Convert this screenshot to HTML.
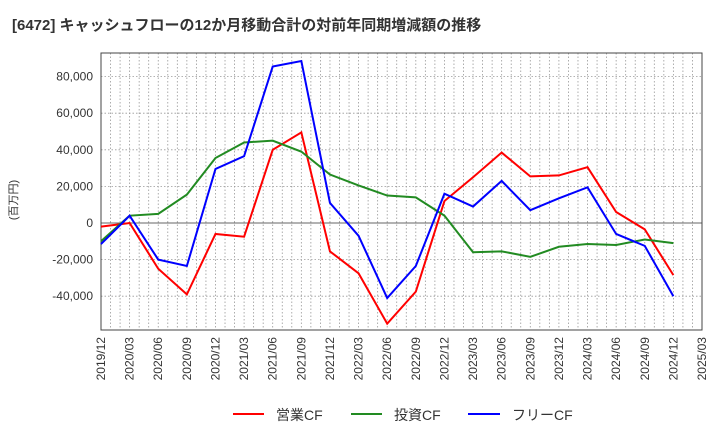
<!DOCTYPE html>
<html><head><meta charset="utf-8"><style>
body{margin:0;background:#fff;font-family:"Liberation Sans","Noto Sans CJK JP",sans-serif;}
svg text{font-family:"Liberation Sans","Noto Sans CJK JP",sans-serif;}
</style></head><body>
<svg id="c" width="720" height="440" xmlns="http://www.w3.org/2000/svg">
<text x="12" y="30" font-size="15" font-weight="bold" fill="#333">[6472]  キャッシュフローの12か月移動合計の対前年同期増減額の推移</text>
<text transform="translate(17,200) rotate(-90)" font-size="11" fill="#333" text-anchor="middle">(百万円)</text>
<g id="grid"></g><g id="axes"></g><g id="series"></g>
<g>
<line x1="233" y1="414" x2="264" y2="414" stroke="#f00" stroke-width="2"/><text x="276" y="420" font-size="14" fill="#333">営業CF</text>
<line x1="351" y1="414" x2="382" y2="414" stroke="#228b22" stroke-width="2"/><text x="394" y="420" font-size="14" fill="#333">投資CF</text>
<line x1="468" y1="414" x2="500" y2="414" stroke="#00f" stroke-width="2"/><text x="512" y="420" font-size="14" fill="#333">フリーCF</text>
</g>
</svg>
<script>
const categories=["2019/12","2020/03","2020/06","2020/09","2020/12","2021/03","2021/06","2021/09","2021/12","2022/03","2022/06","2022/09","2022/12","2023/03","2023/06","2023/09","2023/12","2024/03","2024/06","2024/09","2024/12","2025/03"];
const operatingCF=[-2000,0,-25000,-39000,-6000,-7500,40000,49500,-15500,-27500,-55000,-37500,12000,25000,38500,25500,26000,30500,6000,-3500,-28500];
const investingCF=[-10000,4000,5000,15500,35500,44000,45000,39000,26500,20500,15000,14000,4000,-16000,-15500,-18500,-13000,-11500,-12000,-9000,-11000];
const freeCF=[-11500,4000,-20000,-23500,29500,36500,85500,88500,11000,-7000,-41000,-23500,16000,9000,23000,7000,13500,19500,-6000,-12500,-40000];
const yTicks=[-40000,-20000,0,20000,40000,60000,80000];
const L=101,R=702,T=53,B=330;
const X=i=>L+(R-L)*i/(categories.length-1);
const Y=v=>223-v*36.6/20000;
const ns="http://www.w3.org/2000/svg";
function mk(t,a,p){const e=document.createElementNS(ns,t);for(const k in a)e.setAttribute(k,a[k]);p.appendChild(e);return e;}
const grid=document.getElementById('grid'),axes=document.getElementById('axes'),ser=document.getElementById('series');
for(let m=0;m<=63;m++){const x=L+(R-L)*m/63;
 const g=mk('line',{x1:x,x2:x,y1:T,y2:B,stroke:'#999','stroke-width':0.8,'stroke-dasharray':'1.5,2'},grid);
 }
yTicks.forEach(v=>{const y=Y(v);
 const g=mk('line',{x1:L,x2:R,y1:y,y2:y,stroke:v===0?'#666':'#999','stroke-width':v===0?1:0.8,'stroke-dasharray':v===0?'':'1.5,2'},grid);
 
 const t=mk('text',{x:L-8,y:y+4,'font-size':12,'text-anchor':'end',fill:'#333'},axes);t.textContent=v.toLocaleString('en-US');
 });
categories.forEach((c,i)=>{const x=X(i);
 const t=mk('text',{transform:`translate(${x+4},337) rotate(-90)`,'font-size':12,'text-anchor':'end',fill:'#333'},axes);t.textContent=c;
 });
const f=mk('rect',{x:L,y:T,width:R-L,height:B-T,fill:'none',stroke:'#444','stroke-width':1},axes);

[[operatingCF,'#f00','operating-cf-line'],[investingCF,'#228b22','investing-cf-line'],[freeCF,'#00f','free-cf-line']].forEach(([d,col,n])=>{
 const p=mk('polyline',{points:d.map((v,i)=>X(i)+','+Y(v)).join(' '),fill:'none',stroke:col,'stroke-width':2},ser);
 });
</script>
</body></html>
